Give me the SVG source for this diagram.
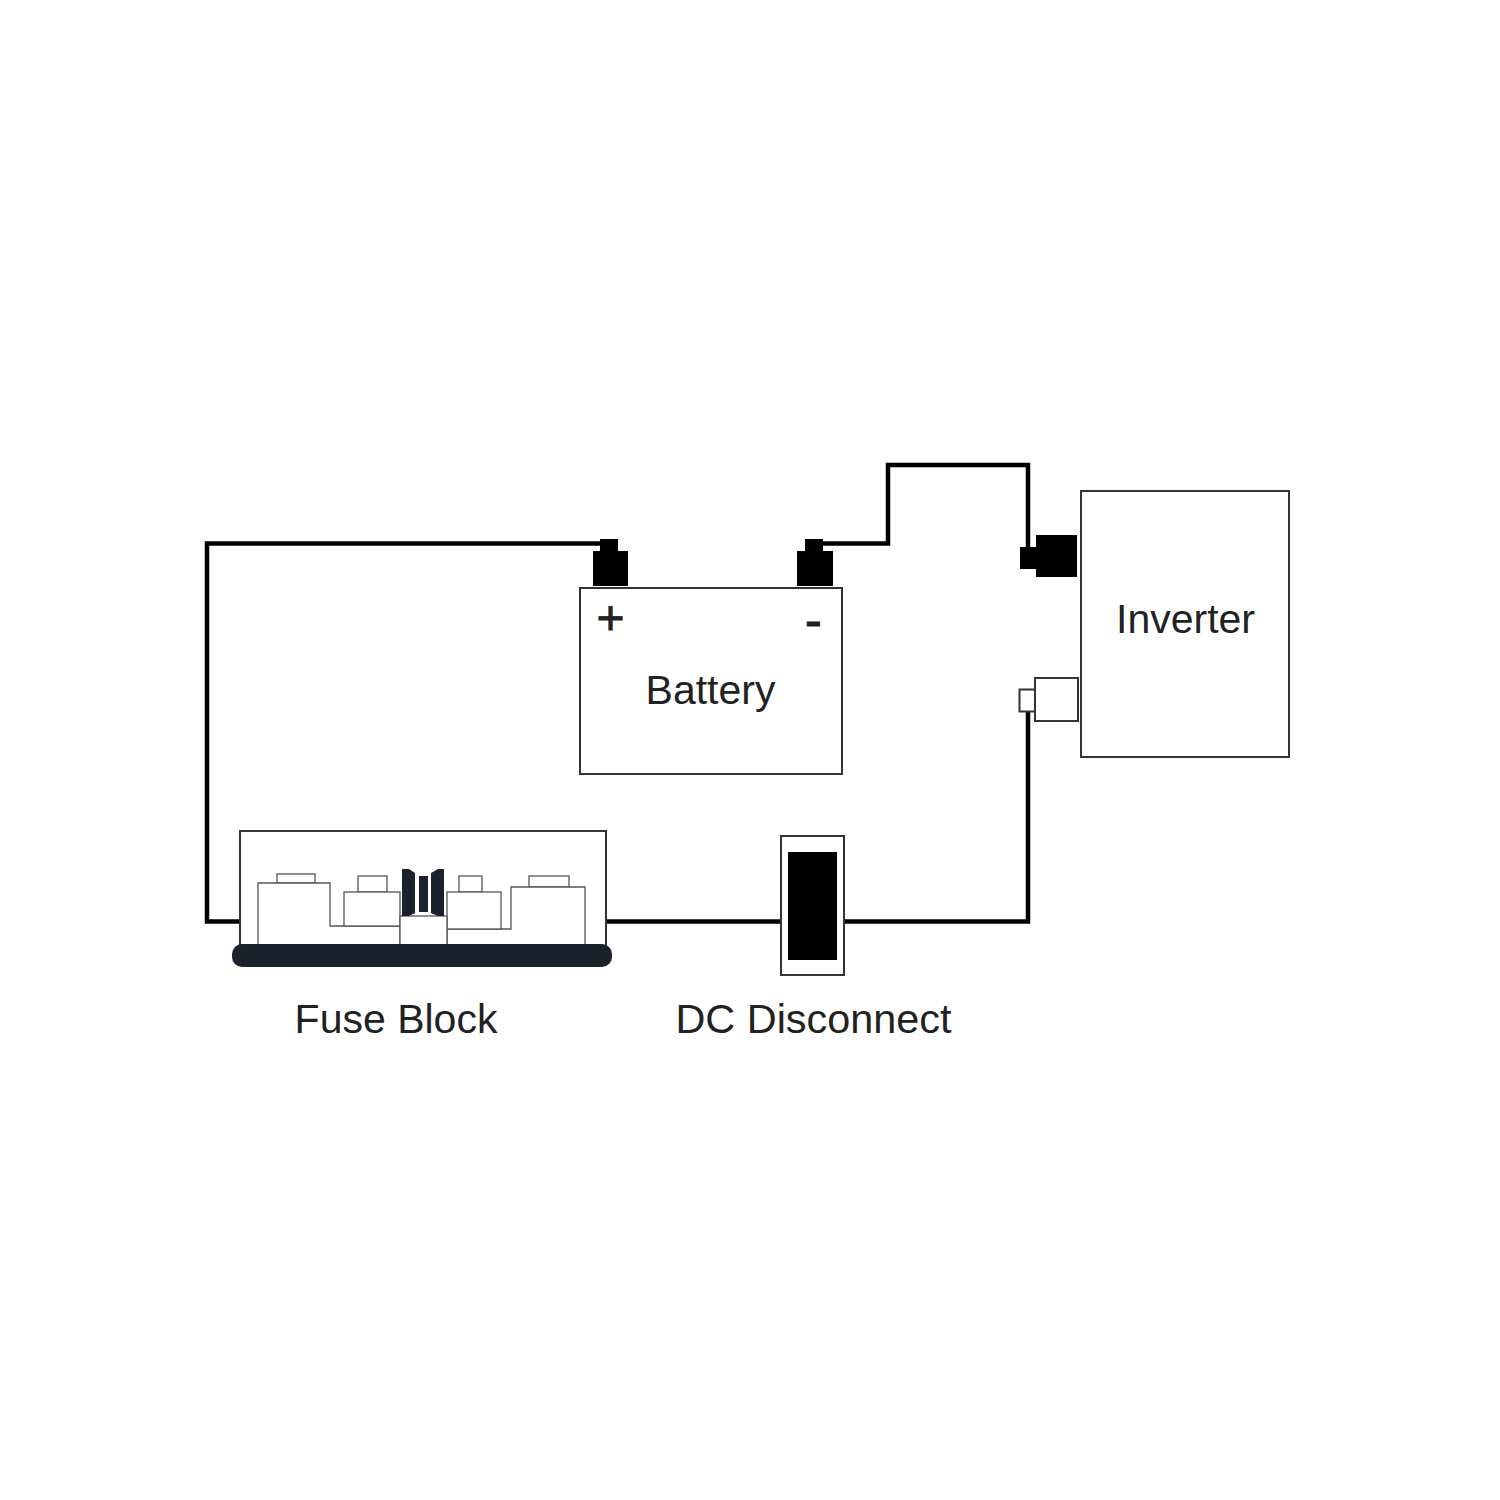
<svg xmlns="http://www.w3.org/2000/svg" width="1500" height="1500" viewBox="0 0 1500 1500">
<style>
.box{fill:#fff;stroke:#333;stroke-width:2}
.thin{fill:#fff;stroke:#555;stroke-width:1.3}
.wire{fill:none;stroke:#000;stroke-width:4.500;stroke-linejoin:miter}
.blk{fill:#000}
.dark{fill:#1b222e}
.lbl{font-family:"Liberation Sans",Arial,sans-serif;font-size:41px;fill:#222;text-anchor:middle}
.sign{stroke:#222;stroke-width:0.800}
</style>
<rect width="1500" height="1500" fill="#fff"/>
<g id="connectors">
<path class="wire" d="M240 921.500H207V543.500H602"/>
<path class="wire" d="M606 921.500H781"/>
<path class="wire" d="M844 921.500H1028V712"/>
<path class="wire" d="M822 543.500H888V465H1028V548"/>
</g>
<g id="battery">
<rect class="box" x="580" y="588" width="262" height="186"/>
<rect class="blk" x="600" y="539" width="18" height="14"/>
<rect class="blk" x="593" y="551" width="35" height="35"/>
<rect class="blk" x="805" y="539" width="18" height="14"/>
<rect class="blk" x="797" y="551" width="36" height="35"/>
<text class="lbl sign" x="610.500" y="634" style="font-size:48px">+</text>
<text class="lbl sign" x="813.500" y="638" style="font-size:52px">-</text>
<text class="lbl" x="710.500" y="704">Battery</text>
</g>
<g id="inverter">
<rect class="box" x="1081" y="491" width="208" height="266"/>
<text class="lbl" x="1185.500" y="633">Inverter</text>
<rect class="blk" x="1020" y="547" width="18" height="22"/>
<rect class="blk" x="1036" y="535" width="41" height="42"/>
<rect class="box" x="1019.500" y="689.500" width="16" height="22"/>
<rect class="box" x="1035" y="678" width="43" height="43"/>
</g>
<g id="dc-disconnect">
<rect class="box" x="781" y="836" width="63" height="139"/>
<rect class="blk" x="788" y="852" width="49" height="108"/>
<text class="lbl" x="813.500" y="1033" style="font-size:41.400px">DC Disconnect</text>
</g>
<g id="fuse-block">
<rect class="box" x="240" y="831" width="366" height="116"/>
<rect class="thin" x="277" y="874" width="38" height="9"/>
<rect class="thin" x="358" y="876" width="29" height="16"/>
<rect class="thin" x="459" y="876" width="23" height="16"/>
<rect class="thin" x="529" y="876" width="40" height="11"/>
<path class="thin" d="M258 945V883H330V926H400V945Z"/>
<rect class="thin" x="344" y="892" width="56" height="34"/>
<path class="thin" d="M447 929H511V887H585V945H447Z"/>
<rect class="thin" x="447" y="892" width="54" height="37"/>
<rect class="thin" x="400" y="916" width="47" height="29"/>
<path class="dark" d="M402 869H409L415 873V913L409 916H402Z"/>
<rect class="dark" x="419" y="876" width="9" height="36"/>
<path class="dark" d="M444 869H438L431 873V913L438 916H444Z"/>
<rect class="dark" x="232" y="944" width="380" height="23" rx="10"/>
<text class="lbl" x="396" y="1033">Fuse Block</text>
</g>
</svg>
